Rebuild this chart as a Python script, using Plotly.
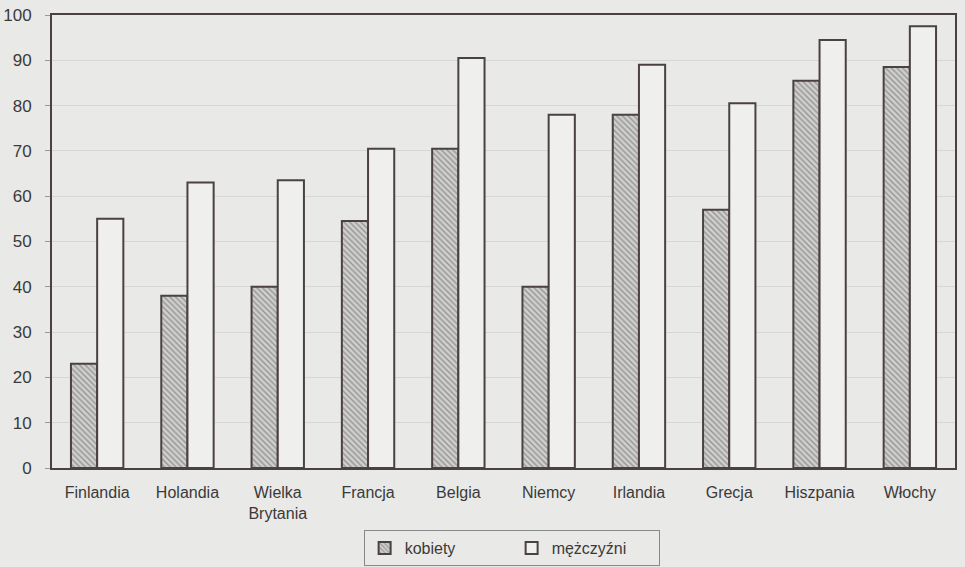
import plotly.graph_objects as go

countries = ["Finlandia", "Holandia", "Wielka<br>Brytania", "Francja", "Belgia",
             "Niemcy", "Irlandia", "Grecja", "Hiszpania", "Włochy"]
kobiety = [23, 38, 40, 54.5, 70.5, 40, 78, 57, 85.5, 88.5]
mezczyzni = [55, 63, 63.5, 70.5, 90.5, 78, 89, 80.5, 94.5, 97.5]
y_ticks = [0, 10, 20, 30, 40, 50, 60, 70, 80, 90, 100]

outline = "#4a4242"
bg = "#e9e9e7"
font = "Liberation Sans, Arial, sans-serif"

fig = go.Figure()
fig.add_trace(go.Bar(
    x=countries, y=kobiety, name="kobiety",
    marker=dict(color="#c9c9c7",
                line=dict(color=outline, width=2),
                pattern=dict(shape="\\", fgcolor="#5a5a5a", bgcolor="#cfcfcd",
                             size=4, solidity=0.35)),
))
fig.add_trace(go.Bar(
    x=countries, y=mezczyzni, name="mężczyźni",
    marker=dict(color="#efefed", line=dict(color=outline, width=2)),
))

fig.update_layout(
    width=965, height=567,
    paper_bgcolor=bg, plot_bgcolor=bg,
    margin=dict(l=52, r=10, t=15, b=99, autoexpand=False),
    barmode="group", bargap=0.42, bargroupgap=0,
    font=dict(family=font, size=16, color="#3a3a3a"),
    showlegend=True,
    legend=dict(orientation="h", x=0.509, xanchor="center",
                yref="container", y=(567 - 530) / 567, yanchor="top",
                bordercolor="#888", borderwidth=1, bgcolor=bg,
                font=dict(size=16, color="#3a3a3a"),
                entrywidth=102, entrywidthmode="pixels",
                itemwidth=30),
)
fig.update_xaxes(showline=True, mirror=True, linecolor=outline, linewidth=2,
                 ticks="", showgrid=False, tickfont=dict(size=16), automargin=False,
                 ticklabelstandoff=9)
fig.update_yaxes(range=[0, 100], tickvals=y_ticks, showline=True, mirror=True,
                 linecolor=outline, linewidth=2, ticks="outside", ticklen=5,
                 tickcolor="#999", showgrid=True, gridcolor="#d6d6d4", gridwidth=1,
                 zeroline=False, tickfont=dict(size=17), ticklabelstandoff=10,
                 automargin=False)

fig.write_html("out.html", config={"displayModeBar": False},
               post_script="document.body.style.margin='0px';")
